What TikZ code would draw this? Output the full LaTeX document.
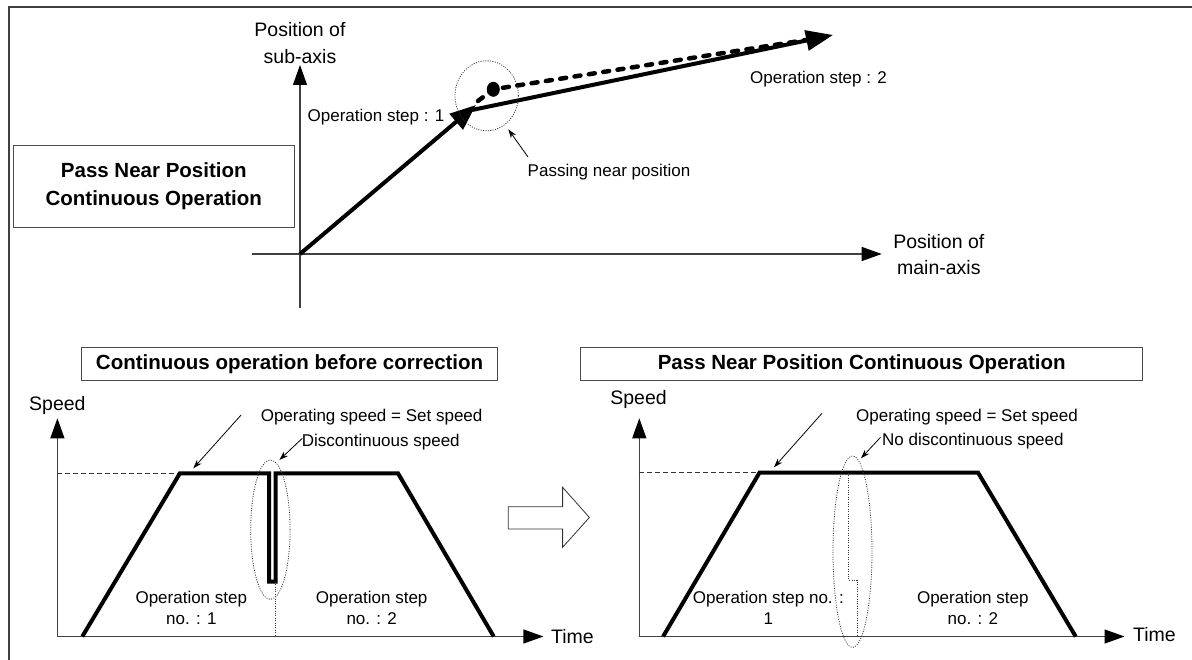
\documentclass[tikz,border=0pt]{standalone}
\usepackage{fontspec}
\setmainfont{Liberation Sans}
\usetikzlibrary{arrows.meta}

\tikzset{
  lbl/.style={font=\fontsize{17}{21}\selectfont, inner sep=0pt, align=center},
  axlbl/.style={font=\fontsize{19.5}{26.5}\selectfont, inner sep=0pt, align=center},
  ttl/.style={font=\bfseries\fontsize{20.5}{28}\selectfont, draw=black!70, line width=1pt, inner sep=0pt, align=center},
  axis/.style={line width=1.2pt, draw=black!75, -{Triangle[length=20pt,width=14pt,color=black]}},
  trace/.style={line width=4pt, line join=miter},
  ring/.style={draw=black!80, line width=0.8pt, dash pattern=on 1pt off 1.4pt},
  ptr/.style={line width=0.8pt, -{Stealth[length=9pt,width=6pt]}},
}

\begin{document}
\begin{tikzpicture}[x=1pt,y=-1pt]
  \useasboundingbox (0,0) rectangle (1192,660);
  % Frame
  \draw[line width=1.5pt, black!75] (9,660) -- (9,7) -- (1192,7);

  % Position plane: axes
  \coordinate (po) at (300,254);
  \coordinate (pxs) at (251.7,254);
  \coordinate (pxe) at (881.7,254);
  \coordinate (pys) at (300,308.3);
  \coordinate (pye) at (300,65);
  \draw[axis] (pxs) -- (pxe);
  \draw[axis] (pys) -- (pye);
  \node[axlbl] (suby) at (300,42.8) {Position of\\sub-axis};
  \node[axlbl] (mainx) at (938.8,254.5) {Position of\\main-axis};

  \node[ttl, minimum width=281pt, minimum height=82pt] (ttlpos) at (153.8,186.2)
    {Pass Near Position\\Continuous Operation};

  % Path of the two steps
  \coordinate (c1) at (476,105);
  \coordinate (c2) at (472,110);
  \coordinate (e2) at (833,35);
  \coordinate (d0) at (478,101);
  \coordinate (dot) at (493.3,89.3);
  \coordinate (d2) at (806,40);
  \draw[trace, -{Triangle[length=26pt,width=20pt]}] (po) -- (c1);
  \draw[trace, -{Triangle[length=27pt,width=20pt]}] (c2) -- (e2);
  \draw[line width=4.5pt, line cap=round, dash pattern=on 6pt off 8.5pt] (d0) -- (dot) -- (d2);
  \fill (dot) ellipse (6.5pt and 7.5pt);
  \draw[ring] (486.7,95.8) ellipse (31.7pt and 35pt);

  \node[lbl, anchor=base] (step1) at (376,121.7) {Operation step : 1};
  \node[lbl, anchor=base] (step2) at (818.5,83.3) {Operation step : 2};
  \node[lbl, anchor=base] (passnear) at (609,176.7) {Passing near position};
  \coordinate (passfrom) at (528,157);
  \coordinate (passtip) at (508.3,129.3);
  \draw[ptr] (passfrom) -- (passtip);

  % Speed chart before correction
  \coordinate (la) at (57.4,636.5);
  \coordinate (lt) at (543.4,636.5);
  \coordinate (ls) at (57.4,418.3);
  \draw[axis] (la) -- (lt);
  \draw[axis] (la) -- (ls);
  \node[axlbl, anchor=base] (lspeed) at (57.4,410) {Speed};
  \node[axlbl, anchor=base west] (ltime) at (551,643) {Time};

  \node[ttl, minimum width=416pt, minimum height=33.3pt] (ttlbefore) at (289.6,364.3)
    {Continuous operation before correction};

  \coordinate (l0) at (82.3,636.5);
  \coordinate (l1) at (179.9,473.3);
  \coordinate (l2) at (269,473.3);
  \coordinate (l3) at (269,581.7);
  \coordinate (l4) at (275.5,581.7);
  \coordinate (l5) at (275.5,473.3);
  \coordinate (l6) at (398,473.3);
  \coordinate (l7) at (493.7,636.5);
  \coordinate (lv) at (57.4,473.3);
  \coordinate (lb) at (275.5,636.5);
  \draw[black!80, line width=0.8pt, dash pattern=on 5pt off 3pt] (lv) -- (l1);
  \draw[trace] (l0) -- (l1) -- (l2) -- (l3) -- (l4) -- (l5) -- (l6) -- (l7);
  \draw[ring] (l4) -- (lb);
  \draw[ring] (270.4,529.7) ellipse (19.7pt and 69.7pt);

  \node[lbl, anchor=base] (lset) at (371.6,421) {Operating speed = Set speed};
  \node[lbl, anchor=base] (ldisc) at (380.8,446.7) {Discontinuous speed};
  \coordinate (lsetfrom) at (241.1,415);
  \coordinate (lsettip) at (193.3,468.3);
  \coordinate (ldiscfrom) at (302.3,438.3);
  \coordinate (ldisctip) at (279.4,460);
  \draw[ptr] (lsetfrom) -- (lsettip);
  \draw[ptr] (ldiscfrom) -- (ldisctip);
  \node[lbl] (lstep1) at (191.3,608.3) {Operation step\\no. : 1};
  \node[lbl] (lstep2) at (371.7,608.3) {Operation step\\no. : 2};

  % Hollow arrow between the charts
  \draw[line width=0.8pt, black!80] (508.2,506.7) -- (562.6,506.7) -- (562.6,487.3)
    -- (589.4,517.5) -- (562.6,547.3) -- (562.6,529) -- (508.2,529) -- cycle;

  % Speed chart with pass near position
  \coordinate (ra) at (639.3,636.5);
  \coordinate (rt) at (1124.5,636.5);
  \coordinate (rs) at (639.3,418.3);
  \draw[axis] (ra) -- (rt);
  \draw[axis] (ra) -- (rs);
  \node[axlbl, anchor=base] (rspeed) at (638.5,404.3) {Speed};
  \node[axlbl, anchor=base west] (rtime) at (1133,641.7) {Time};

  \node[ttl, minimum width=561.5pt, minimum height=33.3pt] (ttlnear) at (861.7,364.3)
    {Pass Near Position Continuous Operation};

  \coordinate (r0) at (663.1,636.5);
  \coordinate (r1) at (759.5,472.7);
  \coordinate (r2) at (978.1,472.7);
  \coordinate (r3) at (1075.7,636.5);
  \coordinate (rv) at (639.3,472.7);
  \draw[black!80, line width=0.8pt, dash pattern=on 5pt off 3pt] (rv) -- (r1);
  \draw[trace] (r0) -- (r1) -- (r2) -- (r3);
  \coordinate (rk0) at (848.5,472.7);
  \coordinate (rk1) at (848.5,580);
  \coordinate (rk2) at (857.1,580);
  \coordinate (rk3) at (857.1,636.5);
  \draw[ring] (rk0) -- (rk1) -- (rk2) -- (rk3);
  \draw[ring] (852.5,551.7) ellipse (19.5pt and 95.7pt);

  \node[lbl, anchor=base] (rset) at (967,421) {Operating speed = Set speed};
  \node[lbl, anchor=base] (rdisc) at (972.9,445) {No discontinuous speed};
  \coordinate (rsetfrom) at (822,413.3);
  \coordinate (rsettip) at (774,467.3);
  \coordinate (rdiscfrom) at (880.5,437.3);
  \coordinate (rdisctip) at (861,458.3);
  \draw[ptr] (rsetfrom) -- (rsettip);
  \draw[ptr] (rdiscfrom) -- (rdisctip);
  \node[lbl] (rstep1) at (768.3,608.3) {Operation step no. :\\1};
  \node[lbl] (rstep2) at (972.8,608.3) {Operation step\\no. : 2};
\end{tikzpicture}
\end{document}
